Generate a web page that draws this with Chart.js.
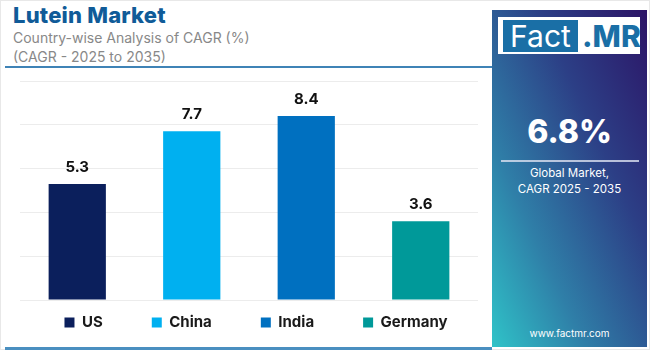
<!DOCTYPE html>
<html>
<head>
<meta charset="utf-8">
<script src="https://cdn.jsdelivr.net/npm/chart.js@4.4.1/dist/chart.umd.min.js"></script>
<style>
  html, body { margin: 0; padding: 0; background: #fff; }
  body { width: 650px; height: 350px; position: relative; overflow: hidden; font-family: "Inter", "Open Sans", sans-serif; }
  .frame { position: absolute; left: 0; top: 0; width: 648px; height: 348px; border: 1px solid #e8e8e8; }
  .title { position: absolute; left: 13px; top: 2px; font-size: 22px; font-weight: 800; color: #105b98; letter-spacing: 0.2px; }
  .sub { position: absolute; left: 13px; font-size: 14px; color: #888; }
  .rule-top { position: absolute; left: 5px; top: 66px; width: 487px; height: 2px; background: #3f83b6; }
  .rule-bot { position: absolute; left: 5px; top: 347px; width: 487px; height: 3px; background: #4a8fc0; }
  #wrap { position: absolute; left: 0; top: 70px; width: 490px; height: 276px; }
  .panel { position: absolute; left: 492px; top: 10px; width: 155px; height: 337px;
           background: linear-gradient(to bottom left, #2c1466 0%, #2c3f86 35%, #2f7fa8 70%, #2fc3c8 100%); color: #fff; text-align: center; }
  .logo { position: absolute; left: 6px; top: 7px; width: 142px; height: 37px; background: #fff; }
  .logo .fact { position: absolute; left: 5px; top: 3px; width: 75px; height: 32px; background: #1a6fa6; color: #fff;
                font-size: 30px; line-height: 32px; font-weight: 400; text-align: center; }
  .logo .mr { position: absolute; left: 84px; top: 3px; height: 32px; line-height: 32px; color: #1a6fa6; font-size: 30px; font-weight: 800; }
  .big { position: absolute; left: 0; width: 155px; top: 102px; font-size: 32px; font-weight: 800; }
  .hr { position: absolute; left: 9px; width: 138px; top: 150px; height: 2px; background: rgba(220,225,240,0.8); }
  .gm { position: absolute; left: 0; width: 155px; top: 155px; font-size: 11.5px; line-height: 16px; }
  .url { position: absolute; left: 0; width: 155px; top: 317px; font-size: 10px; }
</style>
</head>
<body>
<div class="frame"></div>
<div class="title">Lutein Market</div>
<div class="sub" style="top:29px">Country-wise Analysis of CAGR (%)</div>
<div class="sub" style="top:48px">(CAGR - 2025 to 2035)</div>
<div class="rule-top"></div>
<div id="wrap"><canvas id="chart"></canvas></div>
<div class="rule-bot"></div>
<div class="panel">
  <div class="logo"><div class="fact">Fact</div><div class="mr">.MR</div></div>
  <div class="big">6.8%</div>
  <div class="hr"></div>
  <div class="gm">Global Market,<br>CAGR 2025 - 2035</div>
  <div class="url">www.factmr.com</div>
</div>
<script>
const countries = ['US', 'China', 'India', 'Germany'];
const cagr = [5.3, 7.7, 8.4, 3.6];
const barColors = ['#0b1f5c', '#00b0f0', '#0070c0', '#009999'];

const valueLabels = {
  id: 'valueLabels',
  afterDatasetsDraw(chart) {
    const ctx = chart.ctx;
    ctx.save();
    ctx.font = 'bold 15px Inter, "Open Sans", sans-serif';
    ctx.fillStyle = '#111';
    ctx.textAlign = 'center';
    ctx.textBaseline = 'bottom';
    chart.data.datasets.forEach((ds, i) => {
      chart.getDatasetMeta(i).data.forEach((bar, j) => {
        if (ds.data[j] == null) return;
        ctx.fillText(ds.data[j].toFixed(1), bar.x, bar.y - 9);
      });
    });
    ctx.restore();
  }
};

// wide gaps between legend items on one row, but a short legend box
const legendSpace = {
  id: 'legendSpace',
  beforeLayout(chart) {
    const lg = chart.legend;
    if (lg && !lg._patched) {
      const fit = lg.fit;
      lg.fit = function () {
        this.maxWidth = 700;
        fit.call(this);
        this.height = 38;
      };
      lg._patched = true;
    }
  },
  afterLayout(chart) {
    const lg = chart.legend;
    lg.top -= 42;
    // centre the row a little right of the plot, with room for all four items
    lg.left = -44; lg.right = 556;
  }
};

// one dataset per country so the legend shows each one
const datasets = countries.map((c, i) => ({
  label: c,
  data: countries.map((_, j) => (j === i ? cagr[i] : null)),
  backgroundColor: barColors[i],
  barPercentage: 0.5,
  categoryPercentage: 1
}));

new Chart(document.getElementById('chart'), {
  type: 'bar',
  data: { labels: countries, datasets },
  options: {
    responsive: true,
    maintainAspectRatio: false,
    animation: false,
    layout: { padding: { left: 20, right: 12, top: 11, bottom: 0 } },
    plugins: {
      tooltip: { enabled: false },
      legend: {
        position: 'bottom',
        labels: {
          boxWidth: 10, boxHeight: 10, padding: 49,
          color: '#1a1a1a',
          font: { size: 15, weight: 'bold', family: 'Inter, "Open Sans", sans-serif' }
        }
      }
    },
    scales: {
      x: {
        stacked: true,
        ticks: { display: false },
        grid: { display: false },
        border: { display: false }
      },
      y: {
        min: 0, max: 10,
        ticks: { display: false, stepSize: 2 },
        grid: { color: '#ececec', drawTicks: false },
        border: { display: false }
      }
    }
  },
  plugins: [valueLabels, legendSpace]
});
</script>
</body>
</html>
